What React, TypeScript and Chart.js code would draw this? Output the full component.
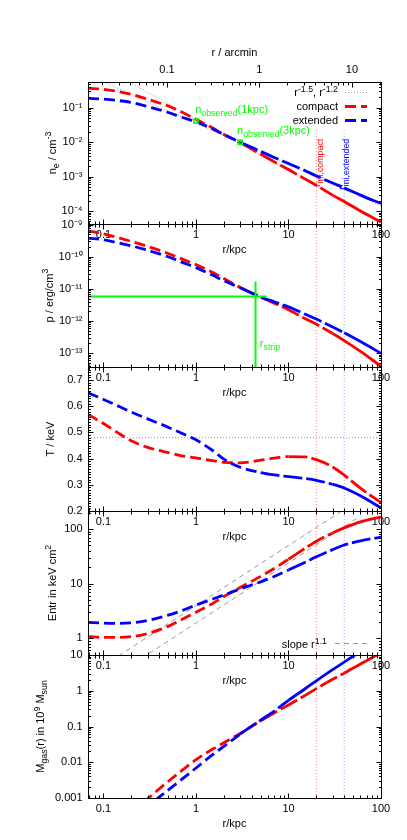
import React, { useEffect, useRef } from 'react';
import { Chart, registerables } from 'chart.js';

Chart.register(...registerables);

const FONT_FAMILY = "'Liberation Sans', Arial, Helvetica, sans-serif";
const FS = 11;

// ---------------- data ----------------
const R = [0.068, 0.1, 0.15, 0.2, 0.3, 0.5, 0.7, 1, 1.5, 2, 3, 5, 7, 10, 15, 20, 30, 40, 60, 100];
const NE_COMPACT = [0.366, 0.345, 0.29, 0.245, 0.178, 0.112, 0.075, 0.046, 0.0262, 0.0168, 0.0097, 0.0045, 0.0027, 0.0016, 8.6e-4, 5.6e-4, 2.9e-4, 1.9e-4, 1.0e-4, 4.8e-5];
const NE_EXTENDED = [0.187, 0.178, 0.16, 0.142, 0.108, 0.073, 0.053, 0.039, 0.0245, 0.0168, 0.01, 0.0054, 0.0036, 0.0024, 0.0015, 0.00105, 6.5e-4, 4.7e-4, 2.9e-4, 1.65e-4];
const P_COMPACT = [6.4e-10, 5.2e-10, 3.8e-10, 3.0e-10, 2.1e-10, 1.27e-10, 8.6e-11, 5.7e-11, 3.3e-11, 2.1e-11, 1.12e-11, 5.6e-12, 3.6e-12, 2.25e-12, 1.2e-12, 7.9e-13, 4.07e-13, 2.46e-13, 1.135e-13, 3.9e-14];
const P_EXTENDED = [3.8e-10, 3.4e-10, 2.65e-10, 2.2e-10, 1.6e-10, 1.0e-10, 6.8e-11, 4.6e-11, 2.7e-11, 1.8e-11, 1.08e-11, 5.6e-12, 3.95e-12, 2.75e-12, 1.65e-12, 1.15e-12, 6.5e-13, 4.3e-13, 2.29e-13, 9.9e-14];
const T_COMPACT = [0.569, 0.534, 0.494, 0.468, 0.443, 0.423, 0.411, 0.403, 0.392, 0.386, 0.384, 0.394, 0.402, 0.408, 0.407, 0.396, 0.368, 0.337, 0.287, 0.232];
const T_EXTENDED = [0.652, 0.626, 0.598, 0.578, 0.552, 0.52, 0.497, 0.472, 0.432, 0.398, 0.367, 0.347, 0.338, 0.331, 0.324, 0.317, 0.302, 0.288, 0.258, 0.212];
const K_COMPACT = [1.07, 1.04, 1.04, 1.07, 1.22, 1.65, 2.2, 3.0, 4.3, 5.8, 8.5, 13.6, 19, 28, 44, 60, 85, 105, 135, 168];
const K_EXTENDED = [1.96, 1.9, 1.88, 1.92, 2.12, 2.65, 3.2, 4.05, 5.2, 6.2, 8.0, 10.8, 13.5, 17.8, 24.5, 31, 42, 51, 61, 71];
const R_MASS = [0.2, 0.3, 0.5, 0.7, 1, 1.5, 2, 3, 5, 7, 10, 15, 20, 30, 40, 60, 100];
const M_COMPACT = [3.8e-4, 9.5e-4, 0.0029, 0.0058, 0.0118, 0.023, 0.035, 0.064, 0.145, 0.24, 0.4, 0.73, 1.15, 2.1, 3.1, 5.6, 11.5];
const M_EXTENDED = [2.2e-4, 5.8e-4, 0.00166, 0.0033, 0.0069, 0.016, 0.0276, 0.061, 0.15, 0.27, 0.54, 1.12, 1.9, 3.9, 6.3, 12.5, 27];

// reference marks
const R_INI = [20, 40]; // compact, extended
const OBS_R = [1, 3];
const OBS_NE = [0.041, 0.01];
const PL_R = [0.1, 100];
const PL_15 = [1.45, 4.6e-5];
const PL_12 = [0.56, 1.4e-4];
const STRIP_H_R = [0.068, 5.8];
const STRIP_H_P = [5.8e-12, 5.8e-12];
const STRIP_V_R = [4.4, 4.4];
const STRIP_V_P = [1.7e-11, 3.0e-14];
const T_REF = 0.48;
const SLOPE_A_R = [0.1, 100];
const SLOPE_A_K = [0.315, 628];
const SLOPE_B_R = [0.1, 55];
const SLOPE_B_K = [0.151, 157];

// axes
const R_RANGE = [0.068, 100];
const KPC_PER_ARCMIN = 4.85;
const X_TICKS = [0.1, 1, 10, 100];
const ARCMIN_TICKS = [0.1, 1, 10];
const NE_RANGE = [4.2e-5, 0.56];
const NE_TICKS = [0.1, 0.01, 0.001, 0.0001];
const P_RANGE = [3.7e-14, 1.05e-9];
const P_TICKS = [1e-9, 1e-10, 1e-11, 1e-12, 1e-13];
const T_RANGE = [0.2, 0.75];
const T_TICKS = [0.2, 0.3, 0.4, 0.5, 0.6, 0.7];
const K_RANGE = [0.494, 214];
const K_TICKS = [1, 10, 100];
const M_RANGE = [0.001, 10];
const M_TICKS = [0.001, 0.01, 0.1, 1, 10];

// ---------------- styles ----------------
const RED = '#ff0000';
const BLUE = '#0000ff';
const GREEN = '#00ff00';
const GRAY = '#9a9a9a';
const RED_THIN = 'rgba(255,0,0,0.5)';
const BLUE_THIN = 'rgba(40,40,255,0.42)';
const DASH_SHORT = [11, 5];
const DASH_LONG = [19, 4];

type Seg = [string, ('sub' | 'sup')?];

const SUP_MAP: Record<string, string> = {
  '-': '\u207B', '0': '\u2070', '1': '\u00B9', '2': '\u00B2', '3': '\u00B3',
  '4': '\u2074', '5': '\u2075', '6': '\u2076', '7': '\u2077', '8': '\u2078', '9': '\u2079',
};
const fmtDecade = (v: number) => '10' + String(Math.round(Math.log10(v))).split('').map((c) => SUP_MAP[c] ?? c).join('');
const fmtPlain = (v: number) => String(Number(v.toPrecision(3)));
const fmtLin = (v: number) => v.toFixed(1);

const pts = (xs: number[], ys: number[]) => xs.map((x, i) => ({ x, y: ys[i] }));

function segFont(size: number, k?: string) {
  return `${k ? size * 0.8 : size}px ${FONT_FAMILY}`;
}
function richWidth(ctx: CanvasRenderingContext2D, segs: Seg[], size: number) {
  let w = 0;
  for (const [t, k] of segs) {
    ctx.font = segFont(size, k);
    w += ctx.measureText(t).width;
  }
  return w;
}
function drawRich(ctx: CanvasRenderingContext2D, segs: Seg[], x: number, y: number, color: string, align: 'left' | 'right' | 'center' = 'left', size = FS) {
  const w = richWidth(ctx, segs, size);
  let cx = align === 'right' ? x - w : align === 'center' ? x - w / 2 : x;
  ctx.save();
  ctx.fillStyle = color;
  ctx.textAlign = 'left';
  ctx.textBaseline = 'alphabetic';
  for (const [t, k] of segs) {
    ctx.font = segFont(size, k);
    const dy = k === 'sup' ? -size * 0.4 : k === 'sub' ? size * 0.3 : 0;
    ctx.fillText(t, cx, y + dy);
    cx += ctx.measureText(t).width;
  }
  ctx.restore();
}
function drawRichUp(ctx: CanvasRenderingContext2D, segs: Seg[], x: number, y: number, color: string, align: 'left' | 'right' | 'center') {
  ctx.save();
  ctx.translate(x, y);
  ctx.rotate(-Math.PI / 2);
  drawRich(ctx, segs, 0, 0, color, align);
  ctx.restore();
}
function seg(ctx: CanvasRenderingContext2D, x1: number, y1: number, x2: number, y2: number) {
  ctx.beginPath();
  ctx.moveTo(x1, y1);
  ctx.lineTo(x2, y2);
  ctx.stroke();
}

function logMarks(range: number[]): [number, boolean][] {
  const out: [number, boolean][] = [];
  const e0 = Math.floor(Math.log10(range[0]));
  const e1 = Math.ceil(Math.log10(range[1]));
  for (let e = e0; e <= e1; e++) {
    for (let m = 1; m <= 9; m++) {
      const v = m * Math.pow(10, e);
      if (v >= range[0] * 0.999 && v <= range[1] * 1.001) out.push([v, m === 1]);
    }
  }
  return out;
}
function linMarks(range: number[], major: number, minor: number): [number, boolean][] {
  const out: [number, boolean][] = [];
  for (let i = Math.ceil(range[0] / minor - 1e-6); i * minor <= range[1] + 1e-9; i++) {
    const v = i * minor;
    const q = v / major;
    out.push([v, Math.abs(q - Math.round(q)) < 1e-6]);
  }
  return out;
}

function curve(xs: number[], ys: number[], color: string, zones: number[], order: number) {
  return {
    data: pts(xs, ys),
    borderColor: color,
    borderWidth: 2.8,
    pointRadius: 0,
    fill: false,
    cubicInterpolationMode: 'monotone',
    order,
    clip: 0,
    xAxisID: 'x',
    yAxisID: 'y',
    segment: {
      borderDash: (c: any) => {
        const x = xs[c.p0DataIndex];
        return x < zones[0] ? DASH_SHORT : x < zones[1] ? DASH_LONG : [];
      },
    },
  };
}
function refLine(xs: number[], ys: number[], color: string, dash: number[], width = 1, order = 10) {
  return {
    data: pts(xs, ys),
    borderColor: color,
    borderWidth: width,
    borderDash: dash,
    pointRadius: 0,
    fill: false,
    tension: 0,
    order,
    clip: 0,
    xAxisID: 'x',
    yAxisID: 'y',
  };
}
function verticals(range: number[], top?: number) {
  return [
    refLine([R_INI[0], R_INI[0]], [range[0], top ?? range[1]], RED_THIN, [1, 2]),
    refLine([R_INI[1], R_INI[1]], [range[0], top ?? range[1]], BLUE_THIN, [1, 2]),
  ];
}

interface PanelSpec {
  top: number;
  bottom: number;
  yType: 'logarithmic' | 'linear';
  yRange: number[];
  yTicks: number[];
  yFmt: (v: number) => string;
  yTitle: Seg[];
  yTitleX: number;
  arcmin?: boolean;
  datasets: any[];
  over?: (chart: any) => void;
}

const PANELS: PanelSpec[] = [
  {
    top: 82, bottom: 224, yType: 'logarithmic', yRange: NE_RANGE, yTicks: NE_TICKS, yFmt: fmtDecade,
    yTitle: [['n'], ['e', 'sub'], [' / cm'], ['-3', 'sup']], yTitleX: 55.5, arcmin: true,
    datasets: [
      refLine(PL_R, PL_15, GRAY, [1, 2]),
      refLine(PL_R, PL_12, GRAY, [1, 2]),
      ...verticals(NE_RANGE, 0.022),
      curve(R, NE_COMPACT, RED, [3, 30], 5),
      curve(R, NE_EXTENDED, BLUE, [3, 40], 4),
      {
        data: pts(OBS_R, OBS_NE), showLine: false, pointStyle: 'rect', pointRadius: 3,
        pointBorderColor: GREEN, pointBackgroundColor: 'rgba(0,255,0,0.15)', pointBorderWidth: 1.5,
        order: 0, clip: 0, xAxisID: 'x', yAxisID: 'y',
      },
    ],
    over: (chart) => {
      const { ctx, scales: { x, y }, chartArea: a } = chart;
      drawRich(ctx, [['n'], ['observed', 'sub'], ['(1kpc)']], x.getPixelForValue(0.98), y.getPixelForValue(0.07), GREEN);
      drawRich(ctx, [['n'], ['observed', 'sub'], ['(3kpc)']], x.getPixelForValue(2.78), y.getPixelForValue(0.0178), GREEN);
      drawRichUp(ctx, [['r'], ['ini,compact', 'sub']], x.getPixelForValue(R_INI[0]) + 3.5, y.getPixelForValue(5e-4), RED, 'left');
      drawRichUp(ctx, [['r'], ['ini,extended', 'sub']], x.getPixelForValue(R_INI[1]) + 1.5, y.getPixelForValue(4.1e-4), BLUE, 'left');
      // legend
      const tx = a.right - 43;
      const sx0 = a.right - 36;
      const sx1 = a.right - 14;
      const rows: [Seg[], string, number[], number][] = [
        [[['r'], ['-1.5', 'sup'], [', r'], ['-1.2', 'sup']], GRAY, [1, 2], 1],
        [[['compact']], RED, DASH_SHORT, 2.8],
        [[['extended']], BLUE, DASH_SHORT, 2.8],
      ];
      rows.forEach(([segs, col, dash, w], i) => {
        const by = a.top + 14 + i * 14;
        drawRich(ctx, segs, tx, by, '#000', 'right');
        ctx.save();
        ctx.strokeStyle = col;
        ctx.lineWidth = w;
        ctx.setLineDash(dash);
        seg(ctx, sx0, by - 3.5, sx1, by - 3.5);
        ctx.restore();
      });
    },
  },
  {
    top: 224, bottom: 367, yType: 'logarithmic', yRange: P_RANGE, yTicks: P_TICKS, yFmt: fmtDecade,
    yTitle: [['p / erg/cm'], ['3', 'sup']], yTitleX: 52.5,
    datasets: [
      ...verticals(P_RANGE),
      refLine(STRIP_H_R, STRIP_H_P, GREEN, [], 2, 1),
      refLine(STRIP_V_R, STRIP_V_P, GREEN, [], 2, 1),
      curve(R, P_COMPACT, RED, [3, 30], 5),
      curve(R, P_EXTENDED, BLUE, [3, 35], 4),
    ],
    over: (chart) => {
      const { ctx, scales: { x, y } } = chart;
      drawRich(ctx, [['r'], ['strip', 'sub']], x.getPixelForValue(4.9), y.getPixelForValue(1.6e-13), GREEN);
    },
  },
  {
    top: 367, bottom: 511, yType: 'linear', yRange: T_RANGE, yTicks: T_TICKS, yFmt: fmtLin,
    yTitle: [['T / keV']], yTitleX: 54,
    datasets: [
      refLine(R_RANGE, [T_REF, T_REF], GRAY, [1, 2]),
      ...verticals(T_RANGE),
      curve(R, T_COMPACT, RED, [8, 70], 5),
      curve(R, T_EXTENDED, BLUE, [5, 30], 4),
    ],
  },
  {
    top: 511, bottom: 655, yType: 'logarithmic', yRange: K_RANGE, yTicks: K_TICKS, yFmt: fmtPlain,
    yTitle: [['Entr in keV cm'], ['2', 'sup']], yTitleX: 55.5,
    datasets: [
      refLine(SLOPE_A_R, SLOPE_A_K, GRAY, [5, 4]),
      refLine(SLOPE_B_R, SLOPE_B_K, GRAY, [5, 4]),
      ...verticals(K_RANGE),
      curve(R, K_COMPACT, RED, [8, 30], 5),
      curve(R, K_EXTENDED, BLUE, [8, 70], 4),
    ],
    over: (chart) => {
      const { ctx, chartArea: a } = chart;
      const by = a.bottom - 7;
      drawRich(ctx, [['slope r'], ['1.1', 'sup']], a.right - 54, by, '#000', 'right');
      ctx.save();
      ctx.strokeStyle = GRAY;
      ctx.lineWidth = 1;
      ctx.setLineDash([5, 4]);
      seg(ctx, a.right - 46, by - 4.5, a.right - 13, by - 4.5);
      ctx.restore();
    },
  },
  {
    top: 655, bottom: 798, yType: 'logarithmic', yRange: M_RANGE, yTicks: M_TICKS, yFmt: fmtPlain,
    yTitle: [['M'], ['gas', 'sub'], ['(r) in 10'], ['9', 'sup'], [' M'], ['sun', 'sub']], yTitleX: 44,
    datasets: [
      ...verticals(M_RANGE),
      curve(R_MASS, M_COMPACT, RED, [5, 40], 5),
      curve(R_MASS, M_EXTENDED, BLUE, [3, 10], 4),
    ],
  },
];

function drawFrame(chart: any, p: PanelSpec) {
  const { ctx, chartArea: a, scales } = chart;
  const L = Math.round(a.left) + 0.5;
  const Rr = Math.round(a.right) + 0.5;
  const T = Math.round(a.top) + 0.5;
  const B = Math.round(a.bottom) + 0.5;
  ctx.save();
  ctx.strokeStyle = '#000';
  ctx.lineWidth = 1;
  ctx.setLineDash([]);
  ctx.strokeRect(L, T, Rr - L, B - T);
  for (const [v, major] of logMarks(R_RANGE)) {
    const px = Math.round(scales.x.getPixelForValue(v)) + 0.5;
    const len = major ? 5 : 3;
    seg(ctx, px, B, px, B - len);
    if (!p.arcmin) seg(ctx, px, T, px, T + len);
  }
  if (p.arcmin) {
    for (const [v, major] of logMarks([R_RANGE[0] / KPC_PER_ARCMIN, R_RANGE[1] / KPC_PER_ARCMIN])) {
      const px = Math.round(scales.x2.getPixelForValue(v)) + 0.5;
      const len = major ? 5 : 3;
      seg(ctx, px, T, px, T + len);
    }
  }
  const marks = p.yType === 'linear' ? linMarks(p.yRange, 0.1, 0.01) : logMarks(p.yRange);
  for (const [v, major] of marks) {
    const py = Math.round(scales.y.getPixelForValue(v)) + 0.5;
    const len = major ? 5 : 2.5;
    seg(ctx, L, py, L + len, py);
    seg(ctx, Rr, py, Rr - len, py);
  }
  ctx.restore();
  // y title
  drawRichUp(ctx, p.yTitle, p.yTitleX, (a.top + a.bottom) / 2, '#000', 'center');
}

function buildConfig(p: PanelSpec): any {
  const font = { family: FONT_FAMILY, size: FS };
  const scales: any = {
    x: {
      type: 'logarithmic', position: 'bottom', axis: 'x',
      min: R_RANGE[0], max: R_RANGE[1], bounds: 'data',
      grid: { display: false, drawTicks: false }, border: { display: false },
      afterBuildTicks: (s: any) => { s.ticks = X_TICKS.map((v) => ({ value: v })); },
      afterFit: (s: any) => { s.height = 40; },
      ticks: { autoSkip: false, maxRotation: 0, minRotation: 0, padding: 4, color: '#000', font, callback: (v: any) => fmtPlain(Number(v)) },
      title: { display: true, text: 'r/kpc', color: '#000', font, padding: { top: 0, bottom: 7 } },
    },
    y: {
      type: p.yType, position: 'left', axis: 'y',
      min: p.yRange[0], max: p.yRange[1], bounds: 'data',
      grid: { display: false, drawTicks: false }, border: { display: false },
      afterBuildTicks: (s: any) => { s.ticks = p.yTicks.map((v) => ({ value: v })); },
      afterFit: (s: any) => { s.width = 88; },
      ticks: { autoSkip: false, padding: 5.5, color: '#000', font, callback: (v: any) => p.yFmt(Number(v)) },
    },
  };
  if (p.arcmin) {
    scales.x2 = {
      type: 'logarithmic', position: 'top', axis: 'x',
      min: R_RANGE[0] / KPC_PER_ARCMIN, max: R_RANGE[1] / KPC_PER_ARCMIN, bounds: 'data',
      grid: { display: false, drawTicks: false }, border: { display: false },
      afterBuildTicks: (s: any) => { s.ticks = ARCMIN_TICKS.map((v) => ({ value: v })); },
      afterFit: (s: any) => { s.height = 42; },
      ticks: { autoSkip: false, maxRotation: 0, minRotation: 0, padding: 5, color: '#000', font, callback: (v: any) => fmtPlain(Number(v)) },
      title: { display: true, text: 'r / arcmin', color: '#000', font, padding: { top: 6.4, bottom: 0 } },
    };
  }
  return {
    type: 'line',
    data: { datasets: p.datasets },
    options: {
      animation: false,
      responsive: false,
      maintainAspectRatio: false,
      devicePixelRatio: 1,
      events: [],
      layout: { padding: { left: 0, right: 26, top: p.arcmin ? 40 : p.top, bottom: 840 - p.bottom - 40 } },
      plugins: { legend: { display: false }, tooltip: { enabled: false }, title: { display: false } },
      scales,
    },
    plugins: [
      {
        id: 'deco',
        afterDatasetsDraw(chart: any) {
          drawFrame(chart, p);
          if (p.over) p.over(chart);
        },
      },
    ],
  };
}

function PanelChart({ spec }: { spec: PanelSpec }) {
  const ref = useRef<HTMLCanvasElement>(null);
  useEffect(() => {
    const chart = new Chart(ref.current as HTMLCanvasElement, buildConfig(spec));
    return () => chart.destroy();
  }, [spec]);
  return (
    <canvas
      ref={ref}
      width={407}
      height={840}
      style={{ position: 'absolute', left: 0, top: 0, width: 407, height: 840 }}
    />
  );
}

export default function App() {
  return (
    <div style={{ position: 'absolute', left: 0, top: 0, width: 407, height: 840, background: '#fff', overflow: 'hidden' }}>
      {PANELS.map((p, i) => (
        <PanelChart key={i} spec={p} />
      ))}
    </div>
  );
}
